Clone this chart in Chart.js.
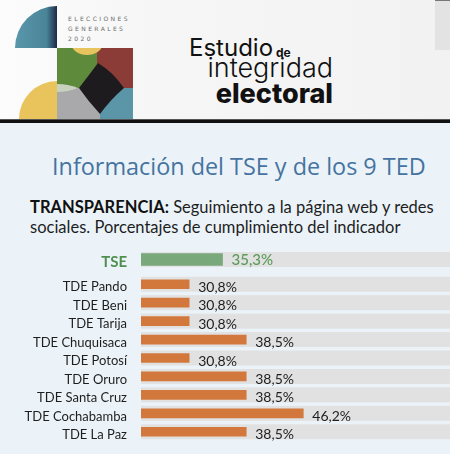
<!DOCTYPE html>
<html lang="es">
<head>
<meta charset="utf-8">
<script src="https://cdn.jsdelivr.net/npm/chart.js@4.4.1/dist/chart.umd.min.js"></script>
<style>
  html, body { margin: 0; padding: 0; }
  body { width: 450px; height: 454px; background: #ebf3f9; position: relative; overflow: hidden; font-family: Lato, sans-serif; }
  #header { position: absolute; left: 0; top: 0; width: 450px; height: 119px; background: linear-gradient(90deg, #fcfcfc 0, #f6f6f6 35%, #f2f2f2 100%); }
  #tab    { position: absolute; left: 435px; top: 0; width: 15px; height: 50px; background: #e3e3e3; border-top: 1px solid #777; box-sizing: border-box; }
  #rule   { position: absolute; left: 0; top: 119px; width: 450px; height: 4px; background: #111; border-top: 1px solid #555; box-sizing: border-box; }
  #logo   { position: absolute; left: 0; top: 0; }
  .logo-txt { position: absolute; left: 68px; top: 14px; font: 6px/10px "DejaVu Sans", sans-serif; letter-spacing: 2.4px; color: #6a6a6a; }
  .wm { position: absolute; font-family: Inter, sans-serif; color: #111; white-space: nowrap; line-height: 1; }
  #title { position: absolute; left: 52px; top: 155px; font: 400 23.4px/23.4px "Open Sans", sans-serif; color: #46739f; white-space: nowrap; }
  #subtitle { position: absolute; left: 30px; top: 197px; font: 400 16.5px/20px Lato, sans-serif; color: #1e1e1e; white-space: nowrap; }
  #subtitle b { font-weight: 700; color: #111; }
  #tseWrap { position: absolute; left: 0; top: 247px; line-height: 0; }
  #tedWrap { position: absolute; left: 0; top: 275px; line-height: 0; }
</style>
</head>
<body>
<div id="header"></div>
<div id="tab"></div>
<svg id="logo" width="150" height="119" viewBox="0 0 150 119">
  <defs>
    <linearGradient id="tealG" x1="0" x2="1" y1="0" y2="0">
      <stop offset="0" stop-color="#5a97aa"/>
      <stop offset="0.75" stop-color="#4a8499"/>
      <stop offset="1" stop-color="#1c2a44"/>
    </linearGradient>
    <clipPath id="sq"><rect x="57" y="48" width="76" height="71"/></clipPath>
  </defs>
  <path d="M57,48 H15 A42,42 0 0 1 57,6 Z" fill="url(#tealG)"/>
  <path d="M57,119 H19 A38,38 0 0 1 57,81 Z" fill="#e9c35c"/>
  <g clip-path="url(#sq)">
    <rect x="57" y="48" width="40" height="40" fill="#5e8a3c"/>
    <rect x="97" y="48" width="36" height="40" fill="#8b3c36"/>
    <rect x="57" y="88" width="43" height="31" fill="#a9a8aa"/>
    <rect x="100" y="88" width="33" height="31" fill="#5a95a8"/>
    <ellipse cx="87" cy="45" rx="15" ry="10" fill="#e7c45e"/>
    <path d="M57,84 Q68,84 78,88 Q68,92 57,92 Z" fill="#c9d2bf"/>
    <path d="M98,63 Q113,72 124,88 Q111,99 100,114 Q88,101 79,88 Q89,75 98,63 Z" fill="#1e1b1f"/>
  </g>
</svg>
<div class="logo-txt">ELECCIONES<br>GENERALES<br>2020</div>
<div class="wm" style="left:189px; top:36px; font-size:24px; font-weight:400;">Estudio</div>
<div class="wm" style="left:276px; top:47px; font-size:12px; font-weight:700;">de</div>
<div class="wm" style="right:117px; top:54px; font-size:27px; font-weight:300;">integridad</div>
<div class="wm" style="right:117px; top:80px; font-size:27px; font-weight:800;">electoral</div>
<div id="rule"></div>

<div id="title">Información del TSE y de los 9 TED</div>
<div id="subtitle"><b>TRANSPARENCIA:</b> Seguimiento a la página web y redes<br>sociales. Porcentajes de cumplimiento del indicador</div>

<div id="tseWrap"><canvas id="chartTse" width="450" height="25"></canvas></div>
<div id="tedWrap"><canvas id="chartTed" width="450" height="166"></canvas></div>

<script>
// ── DATA ──────────────────────────────────────────────────────────────────────
const TSE_LABELS = ['TSE'];
const TSE_VALUES = [35.3];

const TED_LABELS = ['TDE Pando', 'TDE Beni', 'TDE Tarija', 'TDE Chuquisaca', 'TDE Potosí',
                    'TDE Oruro', 'TDE Santa Cruz', 'TDE Cochabamba', 'TDE La Paz'];
const TED_VALUES = [30.8, 30.8, 30.8, 38.5, 30.8, 38.5, 38.5, 46.2, 38.5];

// the original bars do not start at zero
const X_MIN = 24.3;
const X_MAX = 66;

const LABEL_W = 141;
const fmtPct = (v) => v.toFixed(1).replace('.', ',') + '%';

// ── PLUGINS ───────────────────────────────────────────────────────────────────
// grey track behind each bar, across the whole plot width
const trackPlugin = {
  id: 'track',
  beforeDatasetsDraw(chart, args, opts) {
    const { ctx, chartArea, scales } = chart;
    ctx.save();
    ctx.fillStyle = opts.color;
    scales.y.ticks.forEach((t, i) => {
      const cy = scales.y.getPixelForTick(i);
      ctx.fillRect(chartArea.left, cy - opts.size / 2, chartArea.right - chartArea.left, opts.size);
    });
    ctx.restore();
  }
};

// percentage text right of each bar
const valuePlugin = {
  id: 'values',
  afterDatasetsDraw(chart, args, opts) {
    const { ctx } = chart;
    const data = chart.data.datasets[0].data;
    ctx.save();
    ctx.font = opts.font;
    ctx.fillStyle = opts.color;
    ctx.textAlign = 'left';
    ctx.textBaseline = 'middle';
    chart.getDatasetMeta(0).data.forEach((bar, i) => {
      ctx.fillText(fmtPct(data[i]), bar.x + opts.gap, bar.y + opts.dy);
    });
    ctx.restore();
  }
};

// ── CHARTS ────────────────────────────────────────────────────────────────────
function makeChart(id, labels, values, c) {
  return new Chart(document.getElementById(id), {
    type: 'bar',
    data: {
      labels: labels,
      datasets: [{
        data: values,
        backgroundColor: c.barColor,
        borderWidth: 0,
        barThickness: c.barSize
      }]
    },
    options: {
      indexAxis: 'y',
      responsive: false,
      animation: false,
      layout: { padding: 0 },
      plugins: {
        legend: { display: false },
        tooltip: { enabled: false },
        track:  { color: '#e1e1e1', size: 15 },
        values: { font: c.valueFont, color: c.valueColor, gap: 9, dy: c.valueDy }
      },
      scales: {
        x: { display: false, min: X_MIN, max: X_MAX },
        y: {
          // tickLength gives the gap between label and bars (ticks themselves are hidden)
          grid: { display: false, drawTicks: true, tickLength: 14 },
          border: { display: false },
          ticks: { padding: 0, autoSkip: false, labelOffset: c.labelDy, color: c.tickColor, font: c.tickFont },
          afterFit: (s) => { s.width = LABEL_W; s.paddingTop = 0; s.paddingBottom = 0; }
        }
      }
    },
    plugins: [trackPlugin, valuePlugin]
  });
}

makeChart('chartTse', TSE_LABELS, TSE_VALUES, {
  barColor: '#79a97a', barSize: 12,
  tickColor: '#4f8f50', tickFont: { family: 'Lato', size: 15, weight: 'bold' }, labelDy: 2.5,
  valueColor: '#5a9a5b', valueFont: '500 15px Lato', valueDy: 1
});

makeChart('chartTed', TED_LABELS, TED_VALUES, {
  barColor: '#d2783d', barSize: 9,
  tickColor: '#1e1e1e', tickFont: { family: 'Lato', size: 13 }, labelDy: 3,
  valueColor: '#1e1e1e', valueFont: '14px Lato', valueDy: 3
});
</script>
</body>
</html>
